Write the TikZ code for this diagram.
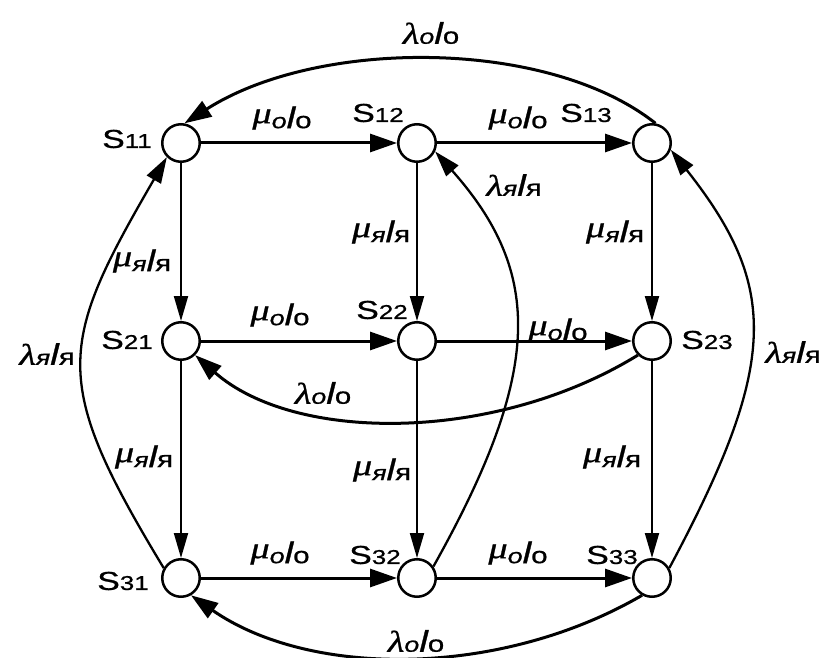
\documentclass[tikz,border=0pt]{standalone}
\usepackage{graphicx}
\usepackage{fontspec}
\setmainfont{Liberation Sans}[FakeBold=0.7]
\newfontfamily\grk{Liberation Serif}[FakeBold=0.7]
\usetikzlibrary{arrows.meta}
\newcommand{\rt}[3]{\scalebox{1.28}[1]{\fontsize{30}{30}\selectfont #1{\fontsize{21}{21}\selectfont\itshape #2}{\itshape l}{\fontsize{23}{23}\selectfont #3}}}
\newcommand{\mmu}{\raisebox{5pt}{\grk\itshape μ}}
\newcommand{\lam}{{\grk\itshape λ}}
\newcommand{\stl}[1]{\scalebox{1.3}[1]{\fontsize{26}{26}\selectfont S\fontsize{20}{20}\selectfont #1}}
\tikzset{
  st/.style={circle, draw, line width=2.5pt, minimum size=37.5pt, inner sep=0pt, fill=white},
  txt/.style={inner sep=0pt, anchor=center},
  hor/.style={line width=3pt, -{Triangle[length=27pt,width=18pt]}},
  ver/.style={line width=2pt, -{Triangle[length=25pt,width=14pt]}},
  lo/.style={line width=3pt, -{Triangle[length=27pt,width=18pt]}},
  lya/.style={line width=2.3pt, -{Triangle[length=26pt,width=16pt]}},
}
\begin{document}
\begin{tikzpicture}[x=1pt,y=-1pt]
\useasboundingbox (0,0) rectangle (825,658);
% states
\node[st] (S11) at (181,143) {};
\node[st] (S12) at (417,143) {};
\node[st] (S13) at (652,143) {};
\node[st] (S21) at (181,341) {};
\node[st] (S22) at (417,341) {};
\node[st] (S23) at (652,341) {};
\node[st] (S31) at (181,578) {};
\node[st] (S32) at (417,578) {};
\node[st] (S33) at (652,578) {};
% state labels
\node[txt] (t11) at (127,139) {\stl{11}};
\node[txt] (t12) at (378,113) {\stl{12}};
\node[txt] (t13) at (586,113) {\stl{13}};
\node[txt] (t21) at (127,340) {\stl{21}};
\node[txt] (t22) at (382,310) {\stl{22}};
\node[txt] (t23) at (707,340) {\stl{23}};
\node[txt] (t31) at (123,581) {\stl{31}};
\node[txt] (t32) at (375,555) {\stl{32}};
\node[txt] (t33) at (612,555) {\stl{33}};
% horizontal transitions
\draw[hor] (S11) -- (S12);
\draw[hor] (S12) -- (S13);
\draw[hor] (S21) -- (S22);
\draw[hor] (S22) -- (S23);
\draw[hor] (S31) -- (S32);
\draw[hor] (S32) -- (S33);
% vertical transitions
\draw[ver] (S11) -- (S21);
\draw[ver] (S12) -- (S22);
\draw[ver] (S13) -- (S23);
\draw[ver] (S21) -- (S31);
\draw[ver] (S22) -- (S32);
\draw[ver] (S23) -- (S33);
% lambda_o arcs
\draw[lo] (S13.80) .. controls (548,38) and (318,38) .. (S11.80);
\draw[lo] (S23.225) .. controls (495,443) and (295,443) .. (S21.-45);
\draw[lo] (S33.240) .. controls (500,678) and (310,678) .. (S31.-60);
% lambda_ya arcs
\draw[lya] (S31.150) .. controls (50,380) and (58,345) .. (S11.225);
\draw[lya] (S32.35) .. controls (543,371) and (543,273) .. (S12.-25);
\draw[lya] (S33.30) .. controls (779,363) and (779,287) .. (S13.-20);
% labels
\node[txt] (m1) at (282,118) {\rt{\mmu}{o}{o}};
\node[txt] (m2) at (518,118) {\rt{\mmu}{o}{o}};
\node[txt] (m3) at (280,315) {\rt{\mmu}{o}{o}};
\node[txt] (m4) at (558,330) {\rt{\mmu}{o}{o}};
\node[txt] (m5) at (280,553) {\rt{\mmu}{o}{o}};
\node[txt] (m6) at (518,553) {\rt{\mmu}{o}{o}};
\node[txt] (v1) at (142,261) {\rt{\mmu}{я}{я}};
\node[txt] (v2) at (381,232) {\rt{\mmu}{я}{я}};
\node[txt] (v3) at (615,232) {\rt{\mmu}{я}{я}};
\node[txt] (v4) at (144,457) {\rt{\mmu}{я}{я}};
\node[txt] (v5) at (382,470) {\rt{\mmu}{я}{я}};
\node[txt] (v6) at (612,457) {\rt{\mmu}{я}{я}};
\node[txt] (a1) at (431,33) {\rt{\lam}{o}{o}};
\node[txt] (a2) at (323,393) {\rt{\lam}{o}{o}};
\node[txt] (a3) at (416,641) {\rt{\lam}{o}{o}};
\node[txt] (b1) at (47,354) {\rt{\lam}{я}{я}};
\node[txt] (b2) at (514,185) {\rt{\lam}{я}{я}};
\node[txt] (b3) at (793,352) {\rt{\lam}{я}{я}};
\end{tikzpicture}
\end{document}
